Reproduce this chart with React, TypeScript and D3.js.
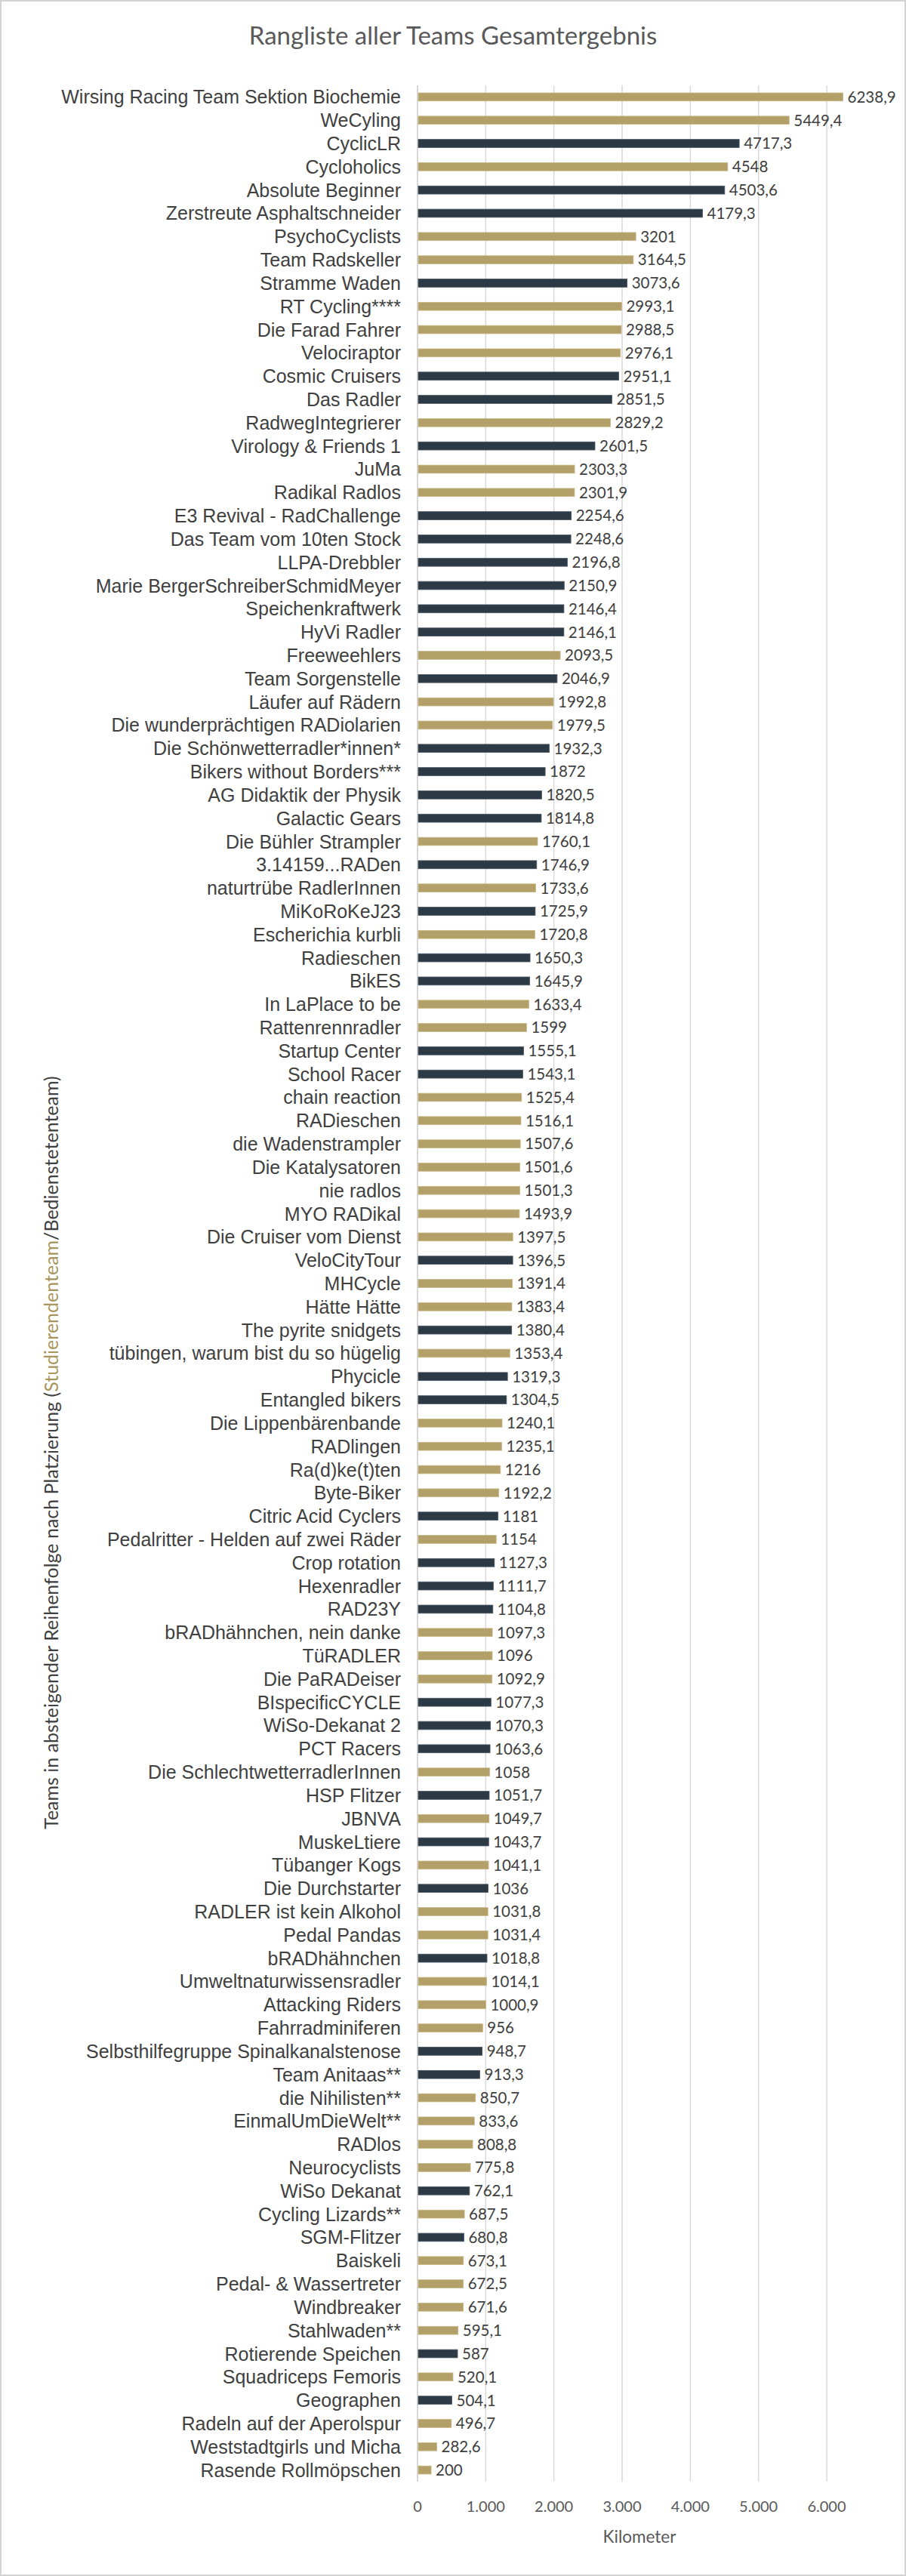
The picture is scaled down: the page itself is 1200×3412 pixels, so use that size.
import React from 'react';
import * as d3 from 'd3';

// Teams in ranking order, with total kilometres and team type
// S = Studierendenteam (gold), B = Bedienstetenteam (dark)
const teams = [
  'Wirsing Racing Team Sektion Biochemie', 'WeCyling', 'CyclicLR', 'Cycloholics', 'Absolute Beginner',
  'Zerstreute Asphaltschneider', 'PsychoCyclists', 'Team Radskeller', 'Stramme Waden', 'RT Cycling****',
  'Die Farad Fahrer', 'Velociraptor', 'Cosmic Cruisers', 'Das Radler', 'RadwegIntegrierer',
  'Virology & Friends 1', 'JuMa', 'Radikal Radlos', 'E3 Revival - RadChallenge', 'Das Team vom 10ten Stock',
  'LLPA-Drebbler', 'Marie BergerSchreiberSchmidMeyer', 'Speichenkraftwerk', 'HyVi Radler', 'Freeweehlers',
  'Team Sorgenstelle', 'Läufer auf Rädern', 'Die wunderprächtigen RADiolarien', 'Die Schönwetterradler*innen*', 'Bikers without Borders***',
  'AG Didaktik der Physik', 'Galactic Gears', 'Die Bühler Strampler', '3.14159...RADen', 'naturtrübe RadlerInnen',
  'MiKoRoKeJ23', 'Escherichia kurbli', 'Radieschen', 'BikES', 'In LaPlace to be',
  'Rattenrennradler', 'Startup Center', 'School Racer', 'chain reaction', 'RADieschen',
  'die Wadenstrampler', 'Die Katalysatoren', 'nie radlos', 'MYO RADikal', 'Die Cruiser vom Dienst',
  'VeloCityTour', 'MHCycle', 'Hätte Hätte', 'The pyrite snidgets', 'tübingen, warum bist du so hügelig',
  'Phycicle', 'Entangled bikers', 'Die Lippenbärenbande', 'RADlingen', 'Ra(d)ke(t)ten',
  'Byte-Biker', 'Citric Acid Cyclers', 'Pedalritter - Helden auf zwei Räder', 'Crop rotation', 'Hexenradler',
  'RAD23Y', 'bRADhähnchen, nein danke', 'TüRADLER', 'Die PaRADeiser', 'BIspecificCYCLE',
  'WiSo-Dekanat 2', 'PCT Racers', 'Die SchlechtwetterradlerInnen', 'HSP Flitzer', 'JBNVA',
  'MuskeLtiere', 'Tübanger Kogs', 'Die Durchstarter', 'RADLER ist kein Alkohol', 'Pedal Pandas',
  'bRADhähnchen', 'Umweltnaturwissensradler', 'Attacking Riders', 'Fahrradminiferen', 'Selbsthilfegruppe Spinalkanalstenose',
  'Team Anitaas**', 'die Nihilisten**', 'EinmalUmDieWelt**', 'RADlos', 'Neurocyclists',
  'WiSo Dekanat', 'Cycling Lizards**', 'SGM-Flitzer', 'Baiskeli', 'Pedal- & Wassertreter',
  'Windbreaker', 'Stahlwaden**', 'Rotierende Speichen', 'Squadriceps Femoris', 'Geographen',
  'Radeln auf der Aperolspur', 'Weststadtgirls und Micha', 'Rasende Rollmöpschen',
];

const kilometers = [
  6238.9, 5449.4, 4717.3, 4548, 4503.6,
  4179.3, 3201, 3164.5, 3073.6, 2993.1,
  2988.5, 2976.1, 2951.1, 2851.5, 2829.2,
  2601.5, 2303.3, 2301.9, 2254.6, 2248.6,
  2196.8, 2150.9, 2146.4, 2146.1, 2093.5,
  2046.9, 1992.8, 1979.5, 1932.3, 1872,
  1820.5, 1814.8, 1760.1, 1746.9, 1733.6,
  1725.9, 1720.8, 1650.3, 1645.9, 1633.4,
  1599, 1555.1, 1543.1, 1525.4, 1516.1,
  1507.6, 1501.6, 1501.3, 1493.9, 1397.5,
  1396.5, 1391.4, 1383.4, 1380.4, 1353.4,
  1319.3, 1304.5, 1240.1, 1235.1, 1216,
  1192.2, 1181, 1154, 1127.3, 1111.7,
  1104.8, 1097.3, 1096, 1092.9, 1077.3,
  1070.3, 1063.6, 1058, 1051.7, 1049.7,
  1043.7, 1041.1, 1036, 1031.8, 1031.4,
  1018.8, 1014.1, 1000.9, 956, 948.7,
  913.3, 850.7, 833.6, 808.8, 775.8,
  762.1, 687.5, 680.8, 673.1, 672.5,
  671.6, 595.1, 587, 520.1, 504.1,
  496.7, 282.6, 200,
];

const teamTypes = [
  'S', 'S', 'B', 'S', 'B',
  'B', 'S', 'S', 'B', 'S',
  'S', 'S', 'B', 'B', 'S',
  'B', 'S', 'S', 'B', 'B',
  'B', 'B', 'B', 'B', 'S',
  'B', 'S', 'S', 'B', 'B',
  'B', 'B', 'S', 'B', 'S',
  'B', 'S', 'B', 'B', 'S',
  'S', 'B', 'B', 'S', 'S',
  'S', 'S', 'S', 'S', 'S',
  'B', 'S', 'S', 'B', 'S',
  'B', 'B', 'S', 'S', 'S',
  'S', 'B', 'S', 'B', 'B',
  'B', 'S', 'S', 'S', 'B',
  'B', 'B', 'S', 'B', 'S',
  'B', 'S', 'B', 'S', 'S',
  'B', 'S', 'S', 'S', 'B',
  'B', 'S', 'S', 'S', 'S',
  'B', 'S', 'B', 'S', 'S',
  'S', 'S', 'B', 'S', 'B',
  'S', 'S', 'S',
];

const xTicks = [0, 1000, 2000, 3000, 4000, 5000, 6000];

const title = 'Rangliste aller Teams Gesamtergebnis';
const xTitle = 'Kilometer';

const width = 1200;
const height = 3412;
const GOLD = '#b3a069';
const DARK = '#2c3a46';
const TEXT = '#404040';
const MUTED = '#595959';
const GRID = '#d9d9d9';

const de = d3.formatLocale({ decimal: ',', thousands: '.', grouping: [3], currency: ['', ' €'] });
const tickFormat = de.format(',d');
const valueFormat = (v: number) => String(v).replace('.', ',');

export default function App() {
  const x = d3.scaleLinear().domain([0, 6000]).range([553, 1095]);
  const y = d3.scaleBand<string>()
    .domain(teams)
    .range([113, 3287])
    .paddingInner(0.65)
    .paddingOuter(0.325);
  const bw = y.bandwidth();
  const plotBottom = 3287;
  const plotTop = 113;

  return (
    <div style={{ position: 'absolute', left: 0, top: 0 }}>
      <svg width={width} height={height} style={{ display: 'block', background: '#fff' }}>
        <rect x={1} y={1} width={width - 2} height={height - 2} fill="#fff" stroke="#d4d4d4" strokeWidth={2} />

        <text x={600} y={59} textAnchor="middle" fontFamily="Lato" fontSize={33} fill={MUTED}>
          {title}
        </text>

        {/* vertical gridlines */}
        {xTicks.map(t => (
          <line key={t} x1={x(t)} x2={x(t)} y1={plotTop} y2={plotBottom}
            stroke={t === 0 ? '#c8c8c8' : GRID} strokeWidth={1.5} />
        ))}

        {/* bars */}
        {teams.map((team, i) => (
          <rect key={team} x={x(0) + 1} y={y(team)} width={Math.max(0, x(kilometers[i]) - x(0) - 1)} height={bw}
            fill={teamTypes[i] === 'S' ? GOLD : DARK}
            stroke={teamTypes[i] === 'S' ? '#c9b988' : '#4b5763'} strokeWidth={0.8} />
        ))}

        {/* category labels */}
        {teams.map(team => (
          <text key={team} x={531} y={(y(team) as number) + bw / 2} dy="0.36em" textAnchor="end"
            fontFamily="Liberation Sans, Arial, sans-serif" fontSize={25} fill={TEXT}>
            {team}
          </text>
        ))}

        {/* value labels */}
        {teams.map((team, i) => (
          <text key={team} x={x(kilometers[i]) + 6} y={(y(team) as number) + bw / 2} dy="0.36em"
            fontFamily="Lato" fontSize={20.5} fill={TEXT}>
            {valueFormat(kilometers[i])}
          </text>
        ))}

        {/* x tick labels */}
        {xTicks.map(t => (
          <text key={t} x={x(t)} y={3327} textAnchor="middle" fontFamily="Lato" fontSize={20} fill={MUTED}>
            {tickFormat(t)}
          </text>
        ))}

        <text x={847} y={3368} textAnchor="middle" fontFamily="Lato" fontSize={22.5} fill={MUTED}>
          {xTitle}
        </text>

        {/* y axis title */}
        <text transform="translate(68,1924) rotate(-90)" textAnchor="middle" dy="0.35em"
          fontFamily="Lato" fontSize={25} fill={TEXT}>
          <tspan>Teams in absteigender Reihenfolge nach Platzierung (</tspan>
          <tspan fill="#a8955c">Studierendenteam</tspan>
          <tspan>/Bedienstetenteam)</tspan>
        </text>
      </svg>
    </div>
  );
}
